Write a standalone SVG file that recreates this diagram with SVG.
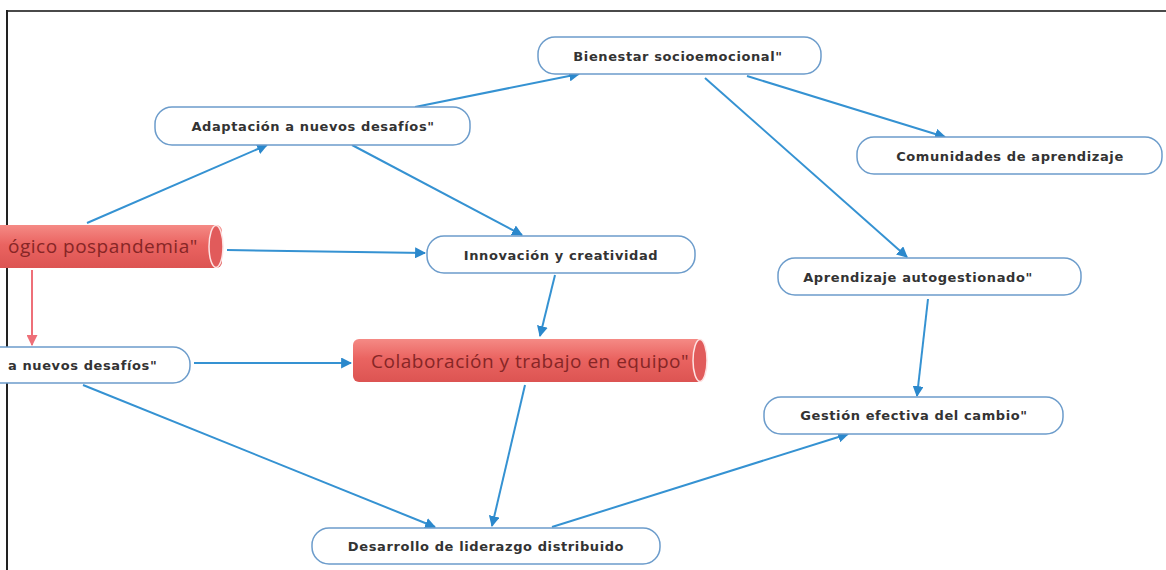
<svg xmlns="http://www.w3.org/2000/svg" width="1166" height="570" viewBox="0 0 1166 570">
<defs>
<style>
.node rect{fill:#ffffff;stroke:#6c9ccb;stroke-width:1.5}
.node text{font-family:"DejaVu Sans",Verdana,sans-serif;font-weight:bold;font-size:13px;letter-spacing:0.6px;fill:#333333;text-anchor:middle;dominant-baseline:central}
.cyl text{font-family:"Open Sans","Liberation Sans",sans-serif;font-size:19px;letter-spacing:0.5px;fill:#862626;dominant-baseline:central}
.edge{stroke:#3592d2;stroke-width:2;fill:none;marker-end:url(#ah)}
.edge-red{stroke:#ee6f78;stroke-width:2;fill:none;marker-end:url(#ahr)}
</style>
<marker id="ah" viewBox="0 0 10 10" refX="9" refY="5" markerWidth="5.5" markerHeight="5.5" orient="auto" markerUnits="strokeWidth">
<path d="M0,0 L10,5 L0,10 z" fill="#2b88cc"/>
</marker>
<marker id="ahr" viewBox="0 0 10 10" refX="9" refY="5" markerWidth="5.5" markerHeight="5.5" orient="auto" markerUnits="strokeWidth">
<path d="M0,0 L10,5 L0,10 z" fill="#ee6f78"/>
</marker>
<linearGradient id="red" x1="0" y1="0" x2="0" y2="1">
<stop offset="0" stop-color="#f58a85"/>
<stop offset="0.45" stop-color="#ea6461"/>
<stop offset="1" stop-color="#dc5452"/>
</linearGradient>
</defs>
<rect width="1166" height="570" fill="#ffffff"/>
<g id="frame">
<line x1="6" y1="11" x2="1166" y2="11" stroke="#4a4a4a" stroke-width="2"/>
<line x1="7" y1="10" x2="7" y2="570" stroke="#222222" stroke-width="2"/>
</g>
<g id="connectors">
<line class="edge" x1="87" y1="223" x2="267" y2="145"/>
<line class="edge" x1="227" y1="250" x2="425" y2="253"/>
<line class="edge" x1="352" y1="145" x2="522" y2="235"/>
<line class="edge" x1="415" y1="107" x2="579" y2="74"/>
<line class="edge" x1="747" y1="76" x2="945" y2="137"/>
<line class="edge" x1="705" y1="78" x2="907" y2="257"/>
<line class="edge" x1="555" y1="275" x2="540" y2="336"/>
<line class="edge-red" x1="32" y1="270" x2="32" y2="345"/>
<line class="edge" x1="194" y1="363" x2="351" y2="363"/>
<line class="edge" x1="83" y1="385" x2="435" y2="527"/>
<line class="edge" x1="525" y1="385" x2="492" y2="526"/>
<line class="edge" x1="552" y1="527" x2="848" y2="434"/>
<line class="edge" x1="928" y1="299" x2="917" y2="396"/>
</g>
<g id="n-pospandemia" class="cyl">
<rect x="-10" y="225" width="232" height="43" rx="6" fill="url(#red)"/>
<ellipse cx="216" cy="246.5" rx="7" ry="21" fill="#e15b5b" stroke="#fde3e3" stroke-width="1.5"/>
<text x="8" y="246">ógico pospandemia"</text>
</g>
<g id="n-colaboracion" class="cyl">
<rect x="353" y="339" width="350" height="43" rx="6" fill="url(#red)"/>
<ellipse cx="700" cy="360.5" rx="7" ry="21" fill="#e15b5b" stroke="#fde3e3" stroke-width="1.5"/>
<text x="371" y="361">Colaboración y trabajo en equipo"</text>
</g>
<g id="n-adaptacion" class="node">
<rect x="155" y="107" width="315" height="38" rx="17"/>
<text x="313" y="126">Adaptación a nuevos desafíos"</text>
</g>
<g id="n-bienestar" class="node">
<rect x="538" y="37" width="283" height="37" rx="17"/>
<text x="678" y="56">Bienestar socioemocional"</text>
</g>
<g id="n-comunidades" class="node">
<rect x="857" y="137" width="305" height="37" rx="17"/>
<text x="1010" y="156">Comunidades de aprendizaje</text>
</g>
<g id="n-innovacion" class="node">
<rect x="427" y="236" width="268" height="37" rx="17"/>
<text x="561" y="255">Innovación y creatividad</text>
</g>
<g id="n-autogestionado" class="node">
<rect x="778" y="258" width="303" height="37" rx="17"/>
<text x="918" y="277">Aprendizaje autogestionado"</text>
</g>
<g id="n-desafios-left" class="node">
<rect x="-30" y="347" width="220" height="36" rx="17"/>
<text x="8" y="365" style="text-anchor:start">a nuevos desafíos"</text>
</g>
<g id="n-gestion" class="node">
<rect x="764" y="397" width="299" height="37" rx="17"/>
<text x="914" y="415">Gestión efectiva del cambio"</text>
</g>
<g id="n-desarrollo" class="node">
<rect x="312" y="528" width="348" height="36" rx="17"/>
<text x="486" y="546">Desarrollo de liderazgo distribuido</text>
</g>
</svg>
